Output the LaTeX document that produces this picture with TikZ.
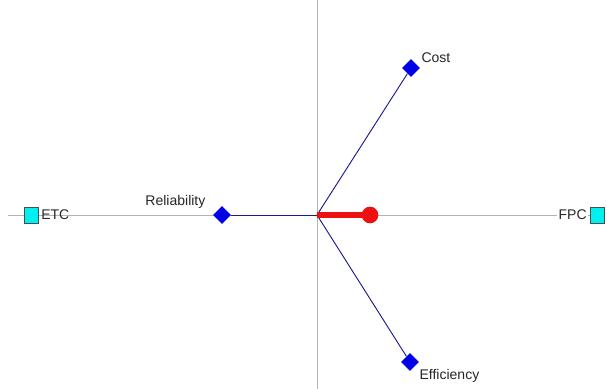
\documentclass[tikz,border=0pt]{standalone}
\usepackage{fontspec}
\setmainfont{Liberation Sans}
\usetikzlibrary{positioning, shapes.geometric}
\definecolor{axisgray}{HTML}{B4B4B4}
\definecolor{linkblue}{HTML}{1A1A8C}
\definecolor{markblue}{HTML}{0000E6}
\definecolor{termcyan}{HTML}{00F0F0}
\definecolor{barred}{HTML}{EE1111}

\begin{document}
\begin{tikzpicture}[x=0.75pt, y=-0.75pt,
  axis/.style={axisgray, line width=0.6pt},
  link/.style={linkblue, line width=0.7pt},
  crit/.style={diamond, fill=markblue, inner sep=0pt, minimum size=13.5pt},
  term/.style={draw=black!70, fill=termcyan, inner sep=0pt,
    minimum width=10.5pt, minimum height=12pt, line width=0.6pt},
  lbl/.style={font=\fontsize{10.5}{12}\selectfont, text=black!85, inner sep=1pt}]
  \useasboundingbox (0,0) rectangle (607,389);

  % Axes
  \coordinate (o) at (317,215);
  \coordinate (top) at (317,0);
  \coordinate (bot) at (317,389);
  \coordinate (lend) at (8,215);
  \coordinate (rend) at (595,215);
  \draw[axis] (top) -- (bot);
  \draw[axis] (lend) -- (rend);

  % Terminals
  \node[term] (etc) at (31,215) {};
  \node[lbl, right=1pt of etc] {ETC};
  \node[term] (fpc) at (597,215) {};
  \node[lbl, left=1pt of fpc, fill=white] {FPC};

  % Criteria
  \node[crit] (rel) at (222,215) {};
  \node[crit] (cost) at (411,68) {};
  \node[crit] (eff) at (410,362) {};
  \draw[link] (o) -- (rel);
  \draw[link] (o) -- (cost);
  \draw[link] (o) -- (eff);
  \node[lbl, anchor=south east] at (207,210) {Reliability};
  \node[lbl, anchor=south west] at (420,64) {Cost};
  \node[lbl, anchor=north west] at (418,368) {Efficiency};

  % Result bar
  \node[circle, fill=barred, inner sep=0pt, minimum size=12.5pt] (res) at (370,215) {};
  \draw[barred, line width=4.5pt] (o) -- (res.center);
\end{tikzpicture}
\end{document}
